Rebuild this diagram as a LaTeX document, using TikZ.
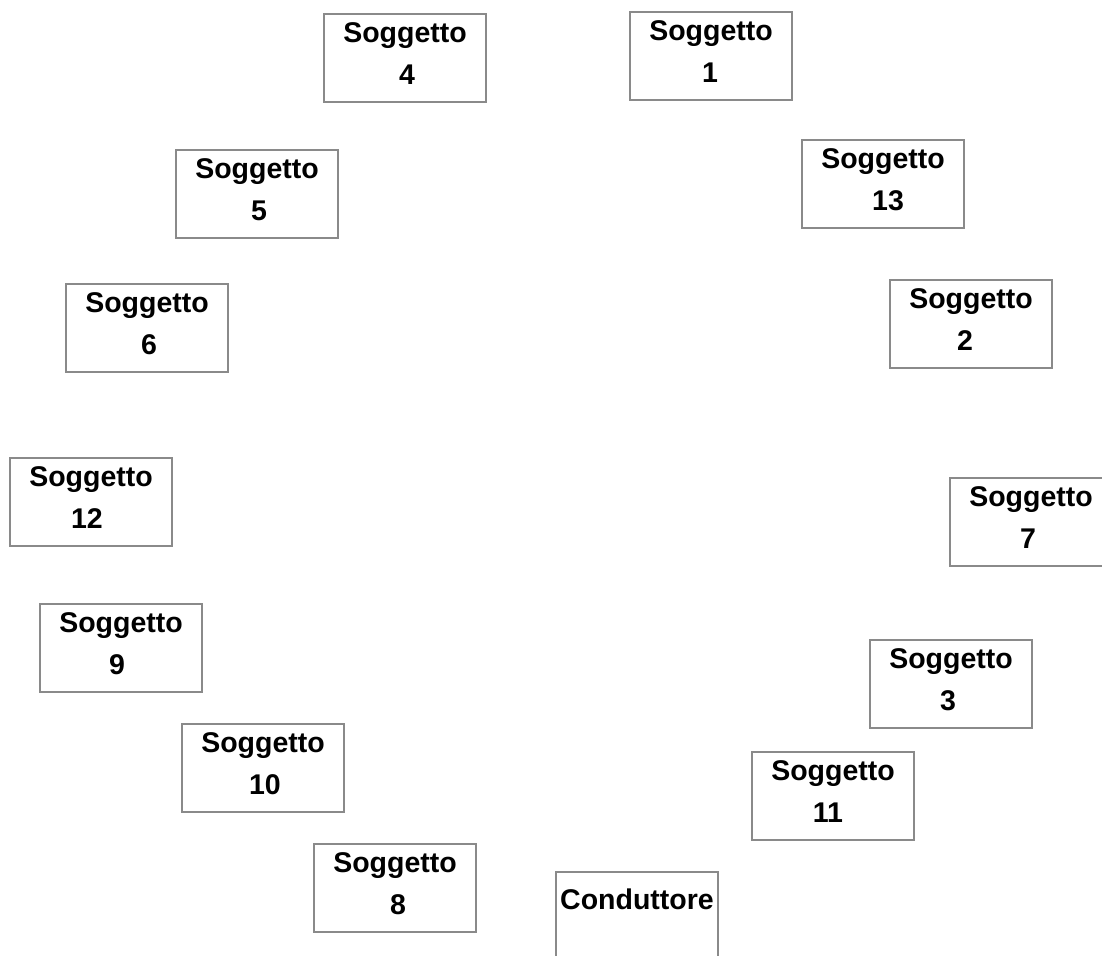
\documentclass[tikz,border=0pt]{standalone}
\usepackage{fontspec}
\setmainfont{Liberation Sans}
\begin{document}
\begin{tikzpicture}[x=1pt,y=-1pt,
  seat/.style={draw={rgb,255:red,138;green,138;blue,138}, line width=1.8pt,
    minimum width=162pt, minimum height=88pt, inner sep=0pt, fill=white},
  seattext/.style={anchor=base, inner sep=0pt,
    font=\fontsize{28.5}{34}\selectfont\bfseries}]
\useasboundingbox (0,0) rectangle (1102,955);
\clip (0,0) rectangle (1102,955);
% one seat: name, centre x, centre y, number, horizontal shift of the number
\newcommand\seatbox[5]{%
  \node[seat] (#1) at (#2,#3) {};
  \node[seattext, yshift=-29pt] (#1a) at (#1.north) {Soggetto};
  \node[seattext, yshift=-71pt, xshift=#5pt] (#1b) at (#1.north) {#4};}
\seatbox{s4}{405}{58}{4}{2}
\seatbox{s1}{711}{56}{1}{-1}
\seatbox{s13}{883}{184}{13}{5}
\seatbox{s5}{257}{194}{5}{2}
\seatbox{s6}{147}{328}{6}{2}
\seatbox{s2}{971}{324}{2}{-6}
\seatbox{s12}{91}{502}{12}{-4}
\seatbox{s7}{1031}{522}{7}{-3}
\seatbox{s9}{121}{648}{9}{-4}
\seatbox{s3}{951}{684}{3}{-3}
\seatbox{s10}{263}{768}{10}{2}
\seatbox{s11}{833}{796}{11}{-5}
\seatbox{s8}{395}{888}{8}{3}
% the conductor's box
\node[seat] (cond) at (637,916) {};
\node[seattext, yshift=-38pt] (conda) at (cond.north) {Conduttore};
\end{tikzpicture}
\end{document}
